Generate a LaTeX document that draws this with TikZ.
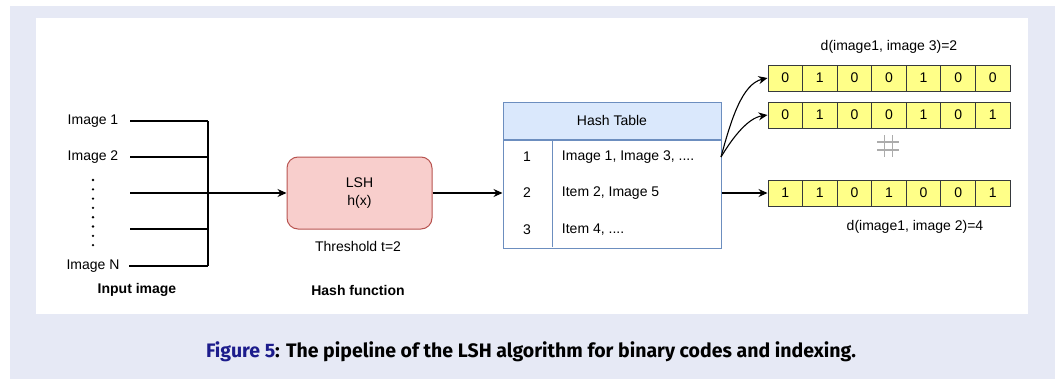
\documentclass[tikz,border=0pt]{standalone}
\usepackage{fontspec}
\setmainfont{Liberation Sans}
\newfontfamily\capfont{Fira Sans}
\usetikzlibrary{arrows.meta,positioning}

\definecolor{pagebg}{HTML}{E6E9F5}
\definecolor{lshfill}{HTML}{F8CECC}
\definecolor{lshdraw}{HTML}{B85450}
\definecolor{tabfill}{HTML}{DAE8FC}
\definecolor{tabdraw}{HTML}{6C8EBF}
\definecolor{bitfill}{HTML}{FFFF88}
\definecolor{bitdraw}{HTML}{36393D}
\definecolor{fignavy}{HTML}{1C1C8C}

\tikzset{
  txt/.style={font=\fontsize{14}{18}\selectfont, inner sep=0.75pt, align=center},
  boldtxt/.style={txt, font=\fontsize{14}{18}\selectfont\bfseries},
  wire/.style={line width=1.1pt, black},
  arr/.style={wire, -{Stealth[length=9pt,width=8pt]}},
  bitcell/.style={draw=bitdraw, fill=bitfill, line width=1pt, minimum width=34.57pt,
    minimum height=26pt, inner sep=0pt, font=\fontsize{14}{16}\selectfont},
}

\begin{document}
\begin{tikzpicture}[x=1pt,y=1pt,yscale=-1]
    \useasboundingbox (0,0) rectangle (1055,380);
    % page background
    \fill[pagebg] (10,6) rectangle (1055,379);
    \fill[white] (36,18) rectangle (1028,314);

    % input images
    \node[txt] (img1) at (93,121) {Image 1};
    \node[txt] (img2) at (93,157) {Image 2};
    \node[txt] (imgN) at (93,266) {Image N};
    \foreach \k in {0,...,7}
      \fill (93,{180+9.3*\k}) circle (1.3pt);
    \coordinate (in3) at (130,193);
    \coordinate (in4) at (130,229);
    \coordinate (bustop) at (208,121);
    \coordinate (busbot) at (208,266);
    \coordinate (busmid) at (208,193);
    \draw[wire] ([xshift=11pt]img1.east) -- (img1 -| bustop);
    \draw[wire] ([xshift=11pt]img2.east) -- (img2 -| bustop);
    \draw[wire] (in3) -- (busmid);
    \draw[wire] (in4) -- (in4 -| bustop);
    \draw[wire] ([xshift=9pt]imgN.east) -- (imgN -| bustop);
    \draw[wire] (bustop) -- (busbot);
    \node[boldtxt] (inlabel) at (137,290) {Input image};

    % hash function
    \node[draw=lshdraw, fill=lshfill, line width=1pt, rounded corners=11pt,
      minimum width=145pt, minimum height=72pt, txt] (lsh) at (359.5,193) {LSH\\ h(x)};
    \draw[arr] (busmid) -- (lsh.west);
    \node[txt] (thresh) at (358,246) {Threshold t=2};
    \node[boldtxt] (hashlabel) at (358,290) {Hash function};

    % hash table
    \node[draw=tabdraw, fill=tabfill, line width=1pt, minimum width=218pt,
      minimum height=37pt, txt] (tabhead) at (612,120.5) {Hash Table};
    \node[draw=tabdraw, line width=1pt, minimum width=218pt, minimum height=108pt,
      inner sep=0pt, anchor=north] (tabbody) at (tabhead.south) {};
    \draw[tabdraw, line width=1pt] (552,139) -- (552,247);
    \node[txt] (row1) at (527,157) {1};
    \node[txt] (row2) at (527,193) {2};
    \node[txt] (row3) at (527,229.5) {3};
    \node[txt, anchor=west] (val1) at (561,157) {Image 1, Image 3, ....};
    \node[txt, anchor=west] (val2) at (561,193) {Item 2, Image 5};
    \node[txt, anchor=west] (val3) at (561,229.5) {Item 4, ....};
    \draw[arr] (lsh.east) -- (tabbody.west |- lsh);

    % binary codes
    \foreach \b [count=\i] in {0,1,0,0,1,0,0}
      \node[bitcell] (a\i) at ({768+34.57*(\i-0.5)},78) {\b};
    \foreach \b [count=\i] in {0,1,0,0,1,0,1}
      \node[bitcell] (b\i) at ({768+34.57*(\i-0.5)},115) {\b};
    \foreach \b [count=\i] in {1,1,0,1,0,0,1}
      \node[bitcell] (c\i) at ({768+34.57*(\i-0.5)},193) {\b};
    \node[txt] (dist1) at (889,47) {d(image1, image 3)=2};
    \node[txt] (dist2) at (915,227) {d(image1, image 2)=4};

    \coordinate (split) at (721,157);
    \draw[arr] (split) .. controls (731,120) and (742,84) .. (a1.west);
    \draw[arr] (split) .. controls (733,137) and (748,118) .. (b1.west);
    \draw[arr] (tabbody.east |- c1) -- (c1.west);

    % hash mark
    \begin{scope}[gray!65, line width=1.1pt, double=white, double distance=1.4pt]
      \draw (884.5,135) -- (884.5,157);
      \draw (892.5,135) -- (892.5,157);
      \draw (877,142) -- (899,142);
      \draw (877,150) -- (899,150);
    \end{scope}

    % caption
    \node[font=\capfont\fontsize{19.5}{23}\selectfont\bfseries, inner sep=0pt] (caption) at (531,352)
      {\textcolor{fignavy}{Figure 5}: The pipeline of the LSH algorithm for binary codes and indexing.};
\end{tikzpicture}
\end{document}
